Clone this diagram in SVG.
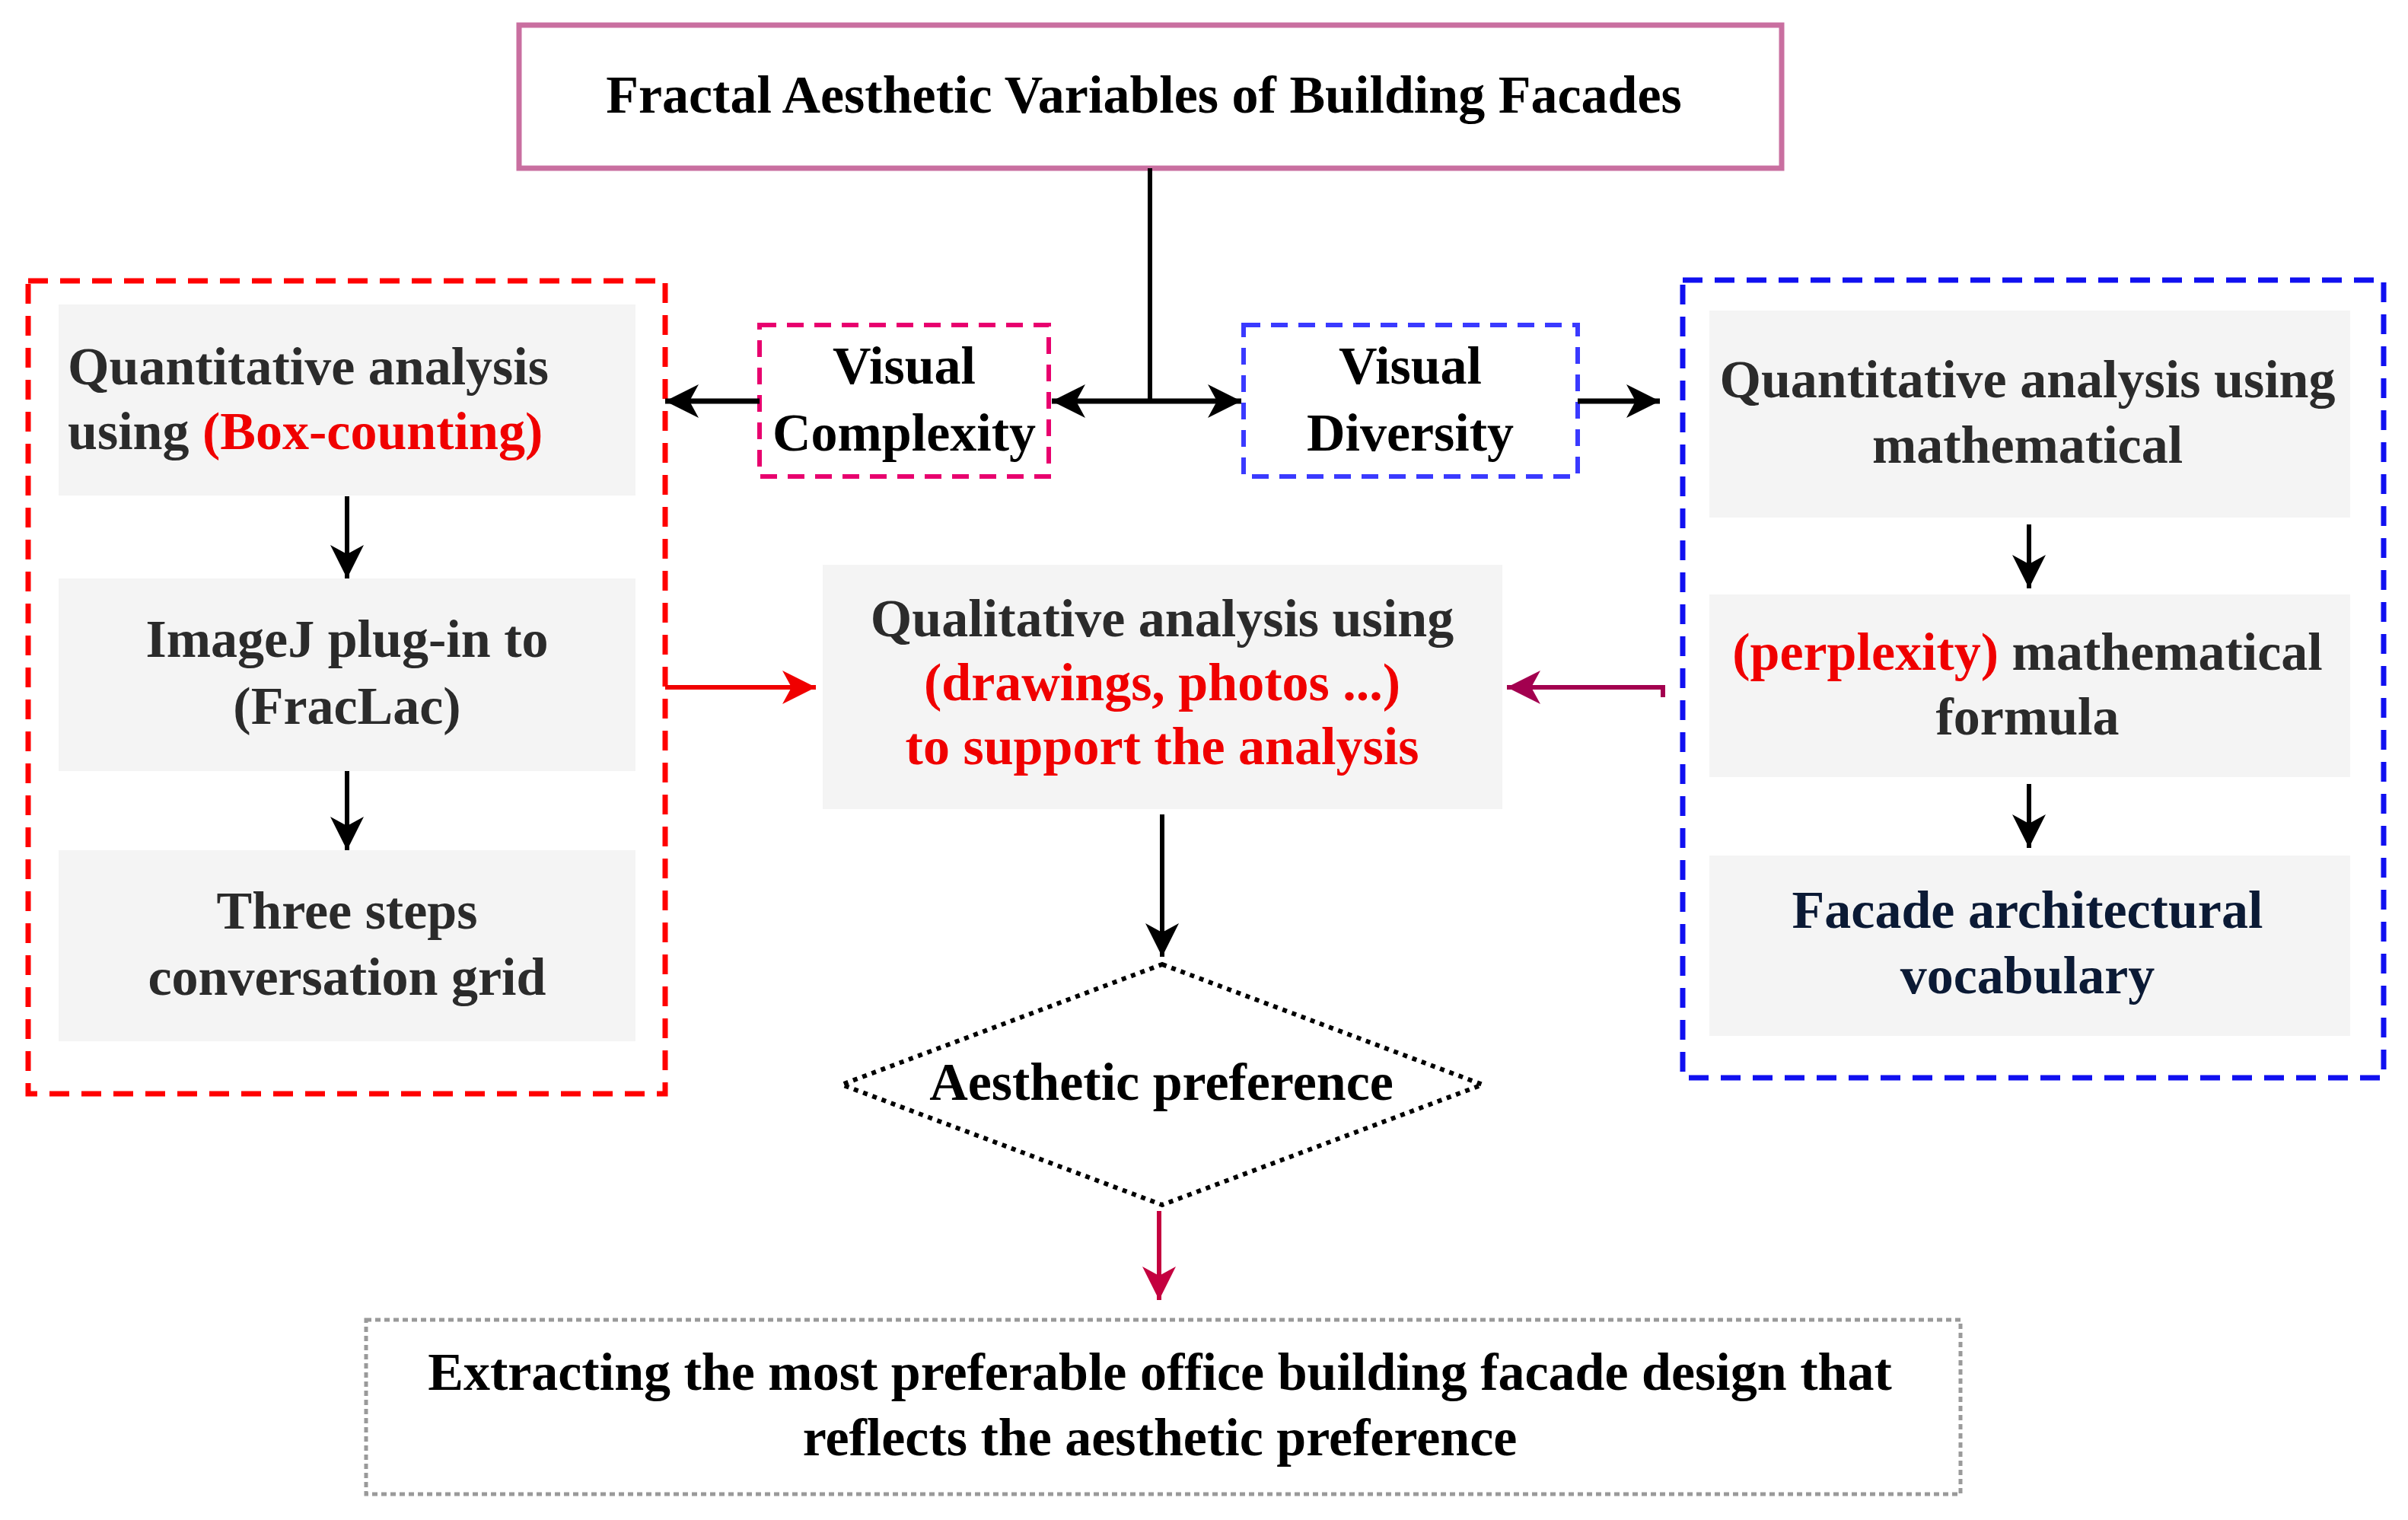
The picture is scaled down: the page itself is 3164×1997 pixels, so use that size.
<svg xmlns="http://www.w3.org/2000/svg" width="3164" height="1997" viewBox="0 0 3164 1997">
<style>
text{font-family:"Liberation Serif","Times New Roman",serif;font-weight:bold;font-size:70px}
.c{text-anchor:middle}
.g{fill:#2b2b2b}
.k{fill:#000}
.r{fill:#f00000}
.n{fill:#0b1a35}
.box{fill:#f4f4f4;stroke:none}
.ln{fill:none;stroke-width:6}
</style>
<defs>
<marker id="ak" markerUnits="userSpaceOnUse" markerWidth="46" markerHeight="44" refX="44" refY="22" orient="auto"><path d="M0,0 L44,22 L0,44 L12,22 z" fill="#000"/></marker>
<marker id="ar" markerUnits="userSpaceOnUse" markerWidth="46" markerHeight="44" refX="44" refY="22" orient="auto"><path d="M0,0 L44,22 L0,44 L12,22 z" fill="#f00000"/></marker>
<marker id="am" markerUnits="userSpaceOnUse" markerWidth="46" markerHeight="44" refX="44" refY="22" orient="auto"><path d="M0,0 L44,22 L0,44 L12,22 z" fill="#a3004f"/></marker>
<marker id="ac" markerUnits="userSpaceOnUse" markerWidth="46" markerHeight="44" refX="44" refY="22" orient="auto"><path d="M0,0 L44,22 L0,44 L12,22 z" fill="#c4003f"/></marker>
</defs>
<rect width="3164" height="1997" fill="#fff"/>

<g id="title">
<rect x="682" y="33" width="1659" height="188" fill="#fff" stroke="#c96fa0" stroke-width="7"/>
<text class="c k" x="1503" y="148">Fractal Aesthetic Variables of Building Facades</text>
</g>

<g id="left-group">
<rect x="37" y="369" width="837" height="1068" fill="none" stroke="#f00" stroke-width="7" stroke-dasharray="26 16"/>
</g>
<g id="left-1">
<rect class="box" x="77" y="400" width="758" height="251"/>
<text class="g" x="89" y="505">Quantitative analysis</text>
<text class="g" x="89" y="590">using <tspan class="r">(Box-counting)</tspan></text>
</g>
<g id="left-2">
<rect class="box" x="77" y="760" width="758" height="253"/>
<text class="c g" x="456" y="863">ImageJ plug-in to</text>
<text class="c g" x="456" y="951">(FracLac)</text>
</g>
<g id="left-3">
<rect class="box" x="77" y="1117" width="758" height="251"/>
<text class="c g" x="456" y="1220">Three steps</text>
<text class="c g" x="456" y="1307">conversation grid</text>
</g>

<g id="visual-complexity">
<rect x="998" y="427" width="380" height="199" fill="#fff" stroke="#e8006e" stroke-width="6" stroke-dasharray="22 14"/>
<text class="c k" x="1188" y="504">Visual</text>
<text class="c k" x="1188" y="592">Complexity</text>
</g>
<g id="visual-diversity">
<rect x="1634" y="427" width="439" height="199" fill="#fff" stroke="#3a3aff" stroke-width="6" stroke-dasharray="22 14"/>
<text class="c k" x="1853" y="504">Visual</text>
<text class="c k" x="1853" y="592">Diversity</text>
</g>

<g id="right-group">
<rect x="2211" y="368" width="921" height="1048" fill="none" stroke="#1010f0" stroke-width="7" stroke-dasharray="26 16"/>
</g>
<g id="right-1">
<rect class="box" x="2246" y="408" width="842" height="272"/>
<text class="c g" x="2664" y="522">Quantitative analysis using</text>
<text class="c g" x="2664" y="608">mathematical</text>
</g>
<g id="right-2">
<rect class="box" x="2246" y="781" width="842" height="240"/>
<text class="c g" x="2664" y="880"><tspan class="r">(perplexity)</tspan> mathematical</text>
<text class="c g" x="2664" y="965">formula</text>
</g>
<g id="right-3">
<rect class="box" x="2246" y="1124" width="842" height="237"/>
<text class="c n" x="2664" y="1219">Facade architectural</text>
<text class="c n" x="2664" y="1305">vocabulary</text>
</g>

<g id="qualitative">
<rect class="box" x="1081" y="742" width="893" height="321"/>
<text class="c g" x="1527" y="836">Qualitative analysis using</text>
<text class="c r" x="1527" y="920">(drawings, photos ...)</text>
<text class="c r" x="1527" y="1004">to support the analysis</text>
</g>

<g id="aesthetic-preference">
<polygon points="1527,1267 1948,1425 1527,1583 1106,1425" fill="#fff" stroke="#000" stroke-width="6" stroke-dasharray="6 7"/>
<text class="c k" x="1526" y="1445">Aesthetic preference</text>
</g>

<g id="result">
<rect x="481" y="1734" width="2095" height="229" fill="#fff" stroke="#9a9a9a" stroke-width="5" stroke-dasharray="7 5"/>
<text class="c k" x="1524" y="1826">Extracting the most preferable office building facade design that</text>
<text class="c k" x="1524" y="1912">reflects the aesthetic preference</text>
</g>

<g id="connectors" class="ln">
<path d="M1511,221 V527" stroke="#000" stroke-width="6"/>
<path d="M1511,527 H1382" stroke="#000" stroke-width="7" marker-end="url(#ak)"/>
<path d="M1511,527 H1631" stroke="#000" stroke-width="7" marker-end="url(#ak)"/>
<path d="M998,527 H874" stroke="#000" stroke-width="7" marker-end="url(#ak)"/>
<path d="M2073,527 H2181" stroke="#000" stroke-width="7" marker-end="url(#ak)"/>
<path d="M456,652 V760" stroke="#000" stroke-width="6" marker-end="url(#ak)"/>
<path d="M456,1013 V1117" stroke="#000" stroke-width="6" marker-end="url(#ak)"/>
<path d="M2666,689 V773" stroke="#000" stroke-width="6" marker-end="url(#ak)"/>
<path d="M2666,1030 V1114" stroke="#000" stroke-width="6" marker-end="url(#ak)"/>
<path d="M874,903 H1072" stroke="#f00000" stroke-width="6" marker-end="url(#ar)"/>
<path d="M2185,916 V903 H1980" stroke="#a3004f" stroke-width="6" marker-end="url(#am)"/>
<path d="M1527,1070 V1257" stroke="#000" stroke-width="6" marker-end="url(#ak)"/>
<path d="M1523,1591 V1708" stroke="#c4003f" stroke-width="6" marker-end="url(#ac)"/>
</g>
</svg>
